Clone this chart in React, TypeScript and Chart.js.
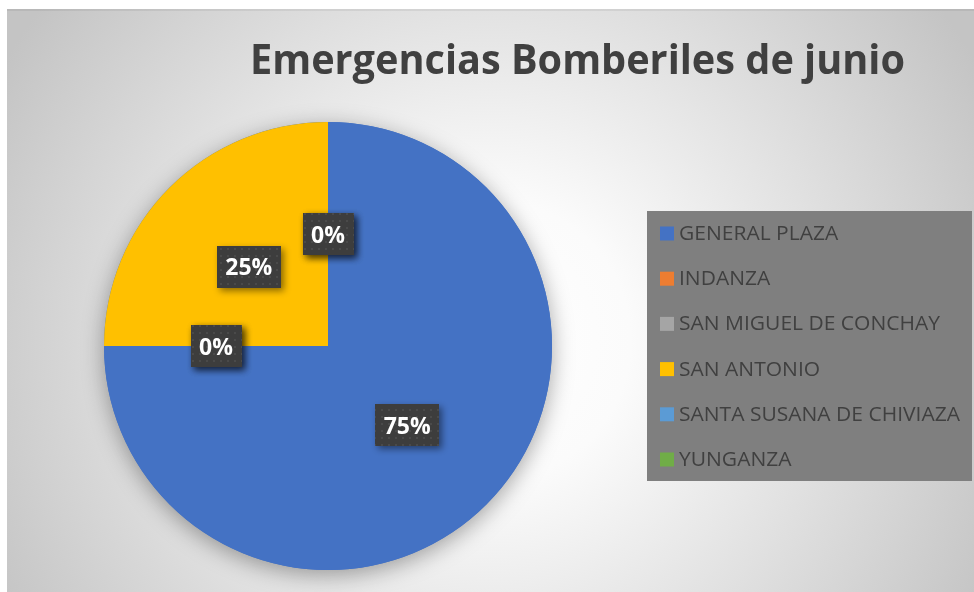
import React, { useEffect, useRef } from "react";
import { Chart, registerables } from "chart.js";

Chart.register(...registerables);

const title = "Emergencias Bomberiles de junio";
const categories = [
  "GENERAL PLAZA",
  "INDANZA",
  "SAN MIGUEL DE CONCHAY",
  "SAN ANTONIO",
  "SANTA SUSANA DE CHIVIAZA",
  "YUNGANZA",
];
const values = [75, 0, 0, 25, 0, 0];
const colors = ["#4472C4", "#ED7D31", "#A5A5A5", "#FFC000", "#5B9BD5", "#70AD47"];

const W = 974;
const H = 592;

function makePattern(ctx: CanvasRenderingContext2D) {
  const c = document.createElement("canvas");
  c.width = 7;
  c.height = 7;
  const p = c.getContext("2d")!;
  p.fillStyle = "#3d3d3d";
  p.fillRect(0, 0, 7, 7);
  p.fillStyle = "#4a4a4a";
  p.fillRect(3, 3, 2, 2);
  return ctx.createPattern(c, "repeat")!;
}

const decorPlugin = {
  id: "decor",
  beforeDraw(chart: any) {
    const ctx = chart.ctx as CanvasRenderingContext2D;
    ctx.save();
    ctx.fillStyle = "#ffffff";
    ctx.fillRect(0, 0, W, H);
    const x0 = 7, y0 = 9;
    const cx = (x0 + W) / 2, cy = (y0 + H) / 2 + 40;
    const g = ctx.createRadialGradient(cx, cy, 0, cx, cy, 560);
    g.addColorStop(0, "#ffffff");
    g.addColorStop(0.25, "#fbfbfb");
    g.addColorStop(1, "#c4c4c4");
    ctx.fillStyle = g;
    ctx.fillRect(x0, y0, W - x0, H - y0);
    ctx.fillStyle = "rgba(0,0,0,0.06)";
    ctx.fillRect(x0, y0, W - x0, 2);

    // title
    ctx.font = "bold 42px 'Open Sans'";
    ctx.fillStyle = "#404040";
    ctx.textBaseline = "alphabetic";
    const tw = ctx.measureText(title).width;
    const targetW = 655;
    ctx.translate(250, 74);
    ctx.scale(targetW / tw, 1);
    ctx.fillText(title, 0, 0);
    ctx.restore();
  },
  beforeDatasetsDraw(chart: any) {
    const ctx = chart.ctx as CanvasRenderingContext2D;
    const meta = chart.getDatasetMeta(0);
    const arc = meta.data[0];
    if (!arc) return;
    const { x, y, outerRadius } = arc.getProps(["x", "y", "outerRadius"], true);
    ctx.save();
    ctx.shadowColor = "rgba(0,0,0,0.35)";
    ctx.shadowBlur = 22;
    ctx.shadowOffsetX = 0;
    ctx.shadowOffsetY = 5;
    ctx.fillStyle = colors[0];
    ctx.beginPath();
    ctx.arc(x, y, outerRadius, 0, Math.PI * 2);
    ctx.fill();
    ctx.restore();
  },
  afterDraw(chart: any) {
    const ctx = chart.ctx as CanvasRenderingContext2D;
    const meta = chart.getDatasetMeta(0);
    const data: number[] = chart.data.datasets[0].data;
    const total = data.reduce((a, b) => a + b, 0);
    const pattern = makePattern(ctx);

    // data labels
    meta.data.forEach((el: any, i: number) => {
      const { x, y, startAngle, endAngle, outerRadius } = el.getProps(
        ["x", "y", "startAngle", "endAngle", "outerRadius"],
        true
      );
      const mid = (startAngle + endAngle) / 2;
      const r = outerRadius * 0.5;
      const lx = x + Math.cos(mid) * r;
      const ly = y + Math.sin(mid) * r;
      const txt = Math.round((data[i] / total) * 100) + "%";
      ctx.save();
      ctx.font = "bold 23px 'Open Sans'";
      const tw = ctx.measureText(txt).width;
      const bw = Math.round(tw + 17);
      const bh = 42;
      ctx.shadowColor = "rgba(0,0,0,0.45)";
      ctx.shadowBlur = 7;
      ctx.shadowOffsetX = 3;
      ctx.shadowOffsetY = 3;
      ctx.fillStyle = pattern;
      ctx.fillRect(Math.round(lx - bw / 2), Math.round(ly - bh / 2), bw, bh);
      ctx.shadowColor = "transparent";
      ctx.fillStyle = "#ffffff";
      ctx.textAlign = "center";
      ctx.textBaseline = "middle";
      ctx.fillText(txt, lx, ly + 2);
      ctx.restore();
    });

    // legend
    const lx0 = 647, ly0 = 211, lw = 325, lh = 270;
    ctx.save();
    ctx.fillStyle = "#7f7f7f";
    ctx.fillRect(lx0, ly0, lw, lh);
    const labels: string[] = chart.data.labels;
    const bg: string[] = chart.data.datasets[0].backgroundColor;
    ctx.font = "19.5px 'Open Sans'";
    ctx.textBaseline = "middle";
    const longest = Math.max(...labels.map((l) => ctx.measureText(l).width));
    const sx = 281 / longest;
    labels.forEach((lab, i) => {
      const cy = 233.5 + i * 45.2;
      ctx.fillStyle = bg[i];
      ctx.fillRect(660, cy - 7, 14, 14);
      ctx.fillStyle = "#404040";
      ctx.save();
      ctx.translate(679, cy + 1);
      ctx.scale(sx, 1);
      ctx.fillText(lab, 0, 0);
      ctx.restore();
    });
    ctx.restore();
  },
};

export default function App() {
  const ref = useRef<HTMLCanvasElement | null>(null);
  useEffect(() => {
    if (!ref.current) return;
    const chart = new Chart(ref.current, {
      type: "pie",
      data: {
        labels: categories,
        datasets: [
          {
            data: values,
            backgroundColor: colors,
            borderWidth: 0,
            hoverOffset: 0,
            offset: 0,
          },
        ],
      },
      options: {
        responsive: false,
        animation: false,
        events: [],
        layout: { padding: { left: 104, right: 422, top: 122, bottom: 22 } },
        plugins: {
          legend: { display: false },
          tooltip: { enabled: false },
          title: { display: false },
        },
      },
      plugins: [decorPlugin],
    });
    return () => chart.destroy();
  }, []);
  return (
    <div style={{ position: "fixed", left: 0, top: 0, width: W, height: H }}>
      <canvas ref={ref} width={W} height={H} style={{ display: "block" }} />
    </div>
  );
}
